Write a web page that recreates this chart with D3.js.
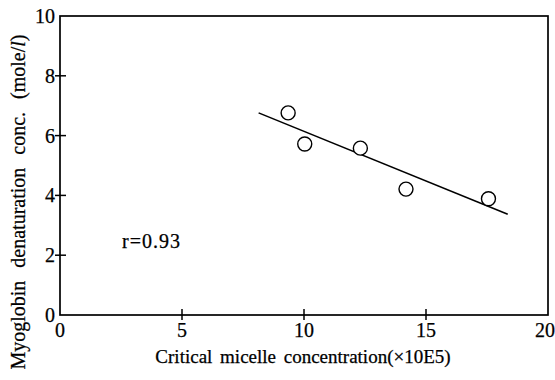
<!DOCTYPE html>
<html>
<head>
<meta charset="utf-8">
<script src="https://cdn.jsdelivr.net/npm/d3@7"></script>
<style>
  body { margin: 0; background: #fff; }
  text { font-family: "Liberation Serif", "Times New Roman", serif; fill: #000; stroke: #000; stroke-width: 0.25px; }
</style>
</head>
<body>
<div id="chart"></div>
<script>
var cmc = [9.35, 10.03, 12.31, 14.18, 17.56];
var denat = [6.76, 5.72, 5.58, 4.21, 3.89];
var fitX = [8.14, 18.35];
var fitY = [6.76, 3.37];
var xTicks = [0, 5, 10, 15, 20];
var yTicks = [0, 2, 4, 6, 8, 10];

var svg = d3.select("#chart").append("svg")
  .attr("width", 555)
  .attr("height", 380);

var x = d3.scaleLinear().domain([0, 20]).range([60, 548]);
var y = d3.scaleLinear().domain([0, 10]).range([315, 16]);

// frame
svg.append("rect")
  .attr("x", x(0))
  .attr("y", y(10))
  .attr("width", x(20) - x(0))
  .attr("height", y(0) - y(10))
  .attr("fill", "none")
  .attr("stroke", "#000")
  .attr("stroke-width", 1.7);

// ticks that cross the axes
svg.selectAll(".yt").data(yTicks.slice(1, 5)).enter().append("line")
  .attr("x1", x(0) - 5).attr("x2", x(0) + 6)
  .attr("y1", d => y(d)).attr("y2", d => y(d))
  .attr("stroke", "#000").attr("stroke-width", 1.5);

svg.selectAll(".xt").data(xTicks.slice(1, 4)).enter().append("line")
  .attr("x1", d => x(d)).attr("x2", d => x(d))
  .attr("y1", y(0) - 6).attr("y2", y(0) + 5)
  .attr("stroke", "#000").attr("stroke-width", 1.5);

svg.selectAll(".yl").data(yTicks).enter().append("text")
  .attr("x", x(0) - 5)
  .attr("y", d => y(d) + 7)
  .attr("text-anchor", "end")
  .style("font-size", "20px")
  .text(d => d);

svg.selectAll(".xl").data(xTicks).enter().append("text")
  .attr("x", d => d == 20 ? x(d) - 3 : x(d))
  .attr("y", y(0) + 22)
  .attr("text-anchor", "middle")
  .style("font-size", "20px")
  .text(d => d);

// regression line
svg.append("line")
  .attr("x1", x(fitX[0])).attr("y1", y(fitY[0]))
  .attr("x2", x(fitX[1])).attr("y2", y(fitY[1]))
  .attr("stroke", "#000").attr("stroke-width", 1.6);

svg.selectAll(".pt").data(cmc).enter().append("circle")
  .attr("cx", d => x(d))
  .attr("cy", (d, i) => y(denat[i]))
  .attr("r", 7)
  .attr("fill", "#fff")
  .attr("stroke", "#000")
  .attr("stroke-width", 1.4);

svg.append("text")
  .attr("x", 122).attr("y", 248)
  .style("font-size", "20px")
  .style("letter-spacing", "1px")
  .text("r=0.93");

svg.append("text")
  .attr("x", 303).attr("y", 363)
  .attr("text-anchor", "middle")
  .style("font-size", "19px")
  .style("word-spacing", "3px")
  .text("Critical micelle concentration(\u00d710E5)");

svg.append("text")
  .attr("transform", "translate(25,202) rotate(-90)")
  .attr("text-anchor", "middle")
  .style("font-size", "20px")
  .style("word-spacing", "8px")
  .html("Myoglobin denaturation conc. (mole/<tspan font-style='italic'>l</tspan>)");
</script>
</body>
</html>
